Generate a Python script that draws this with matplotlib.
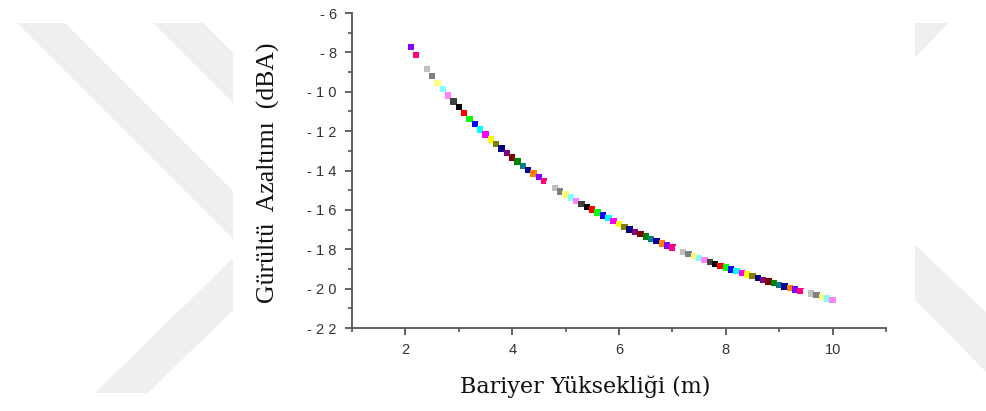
import matplotlib
matplotlib.use("Agg")
import matplotlib.pyplot as plt
from matplotlib.patches import Polygon, Rectangle
from matplotlib.ticker import FixedLocator

# Barrier height (m) and resulting noise reduction (dBA)
barrier_height = [
    2.1, 2.2, 2.3, 2.4, 2.5, 2.6, 2.7, 2.8, 2.9, 3.0,
    3.1, 3.2, 3.3, 3.4, 3.5, 3.6, 3.7, 3.8, 3.9, 4.0,
    4.1, 4.2, 4.3, 4.4, 4.5, 4.6, 4.7, 4.8, 4.9, 5.0,
    5.1, 5.2, 5.3, 5.4, 5.5, 5.6, 5.7, 5.8, 5.9, 6.0,
    6.1, 6.2, 6.3, 6.4, 6.5, 6.6, 6.7, 6.8, 6.9, 7.0,
    7.1, 7.2, 7.3, 7.4, 7.5, 7.6, 7.7, 7.8, 7.9, 8.0,
    8.1, 8.2, 8.3, 8.4, 8.5, 8.6, 8.7, 8.8, 8.9, 9.0,
    9.1, 9.2, 9.3, 9.4, 9.5, 9.6, 9.7, 9.8, 9.9, 10.0,
]
noise_reduction = [
    -7.74, -8.13, -8.50, -8.85, -9.19, -9.54, -9.86, -10.19, -10.49, -10.79,
    -11.09, -11.37, -11.65, -11.92, -12.18, -12.42, -12.66, -12.89, -13.12, -13.34,
    -13.55, -13.76, -13.96, -14.15, -14.34, -14.52, -14.70, -14.89, -15.06, -15.22,
    -15.38, -15.54, -15.69, -15.84, -15.99, -16.13, -16.28, -16.42, -16.57, -16.72,
    -16.86, -16.99, -17.12, -17.24, -17.36, -17.48, -17.59, -17.70, -17.81, -17.91,
    -18.02, -18.13, -18.24, -18.35, -18.46, -18.56, -18.66, -18.75, -18.84, -18.93,
    -19.02, -19.11, -19.20, -19.29, -19.37, -19.46, -19.55, -19.64, -19.72, -19.81,
    -19.89, -19.97, -20.04, -20.12, -20.18, -20.25, -20.33, -20.42, -20.50, -20.57,
]

x_major = [2, 4, 6, 8, 10]
x_minor = [1, 3, 5, 7, 9, 11]
y_major = [-22, -20, -18, -16, -14, -12, -10, -8, -6]
y_minor = [-21, -19, -17, -15, -13, -11, -9, -7]

x_label = "Bariyer Yüksekliği (m)"
y_label = "Gürültü  Azaltımı  (dBA)"

# Origin-style 24 colour palette, cycled point by point
palette = [
    "#000000", "#FF0000", "#00FF00", "#0000FF", "#00FFFF", "#FF00FF",
    "#FFFF00", "#808000", "#000080", "#800080", "#800000", "#008000",
    "#008080", "#0000A0", "#FF8000", "#8000FF", "#FF0080", "#FFFFFF",
    "#C0C0C0", "#808080", "#FFFF80", "#80FFFF", "#FF80FF", "#404040",
]
start_color = 15
point_colors = [palette[(start_color + k) % len(palette)] for k in range(len(barrier_height))]

W, H = 986, 411
fig = plt.figure(figsize=(W / 100, H / 100), dpi=100)
fig.patch.set_facecolor("white")


def px(points):
    return [(x / W, 1 - y / H) for x, y in points]


# faint background emblem stripes
stripe_color = "#efefef"
for poly in [
    [(17, 23), (65, 23), (233, 191), (233, 239)],
    [(153, 23), (203, 23), (233, 53), (233, 103)],
    [(95, 393), (148, 393), (233, 310), (233, 258)],
    [(915, 23), (948, 23), (915, 58)],
    [(915, 245), (986, 312), (986, 372), (915, 300)],
]:
    fig.patches.append(Polygon(px(poly), closed=True, transform=fig.transFigure,
                               facecolor=stripe_color, edgecolor="none", zorder=-2))
fig.patches.append(Rectangle((233 / W, 0), (915 - 233) / W, 1, transform=fig.transFigure,
                             facecolor="white", edgecolor="none", zorder=-1))

ax = fig.add_axes([352 / W, 1 - 328 / H, (886 - 352) / W, (328 - 13) / H])
ax.set_facecolor("none")
ax.set_zorder(1)

ax.scatter(barrier_height, noise_reduction, c=point_colors, marker="s", s=21,
           linewidths=0, zorder=3)

ax.set_xlim(1, 11)
ax.set_ylim(-22, -6)

ax.xaxis.set_major_locator(FixedLocator(x_major))
ax.xaxis.set_minor_locator(FixedLocator(x_minor))
ax.yaxis.set_major_locator(FixedLocator(y_major))
ax.yaxis.set_minor_locator(FixedLocator(y_minor))

tick_font = {"family": "Liberation Sans", "size": 10.5}
ax.set_xticklabels([str(v) for v in x_major], fontdict=tick_font, color="#333333")
ax.set_yticklabels(["- " + " ".join(str(abs(v))) for v in y_major],
                   fontdict=tick_font, color="#333333")

for side in ("top", "right"):
    ax.spines[side].set_visible(False)
for side in ("left", "bottom"):
    ax.spines[side].set_color("#555555")
    ax.spines[side].set_linewidth(1.3)

ax.tick_params(which="major", direction="out", length=5, width=1.3, color="#555555", pad=6)
ax.tick_params(which="minor", direction="out", length=3, width=1.2, color="#555555")

fig.text(585 / W, 1 - 387 / H, x_label, ha="center", va="center",
         family="DejaVu Serif", fontsize=16, color="#111111")
fig.text(268 / W, 1 - 173 / H, y_label, ha="center", va="center", rotation=90,
         family="Liberation Serif", fontsize=18.5, color="#111111")

fig.savefig("out.png", dpi=100, facecolor="white")
